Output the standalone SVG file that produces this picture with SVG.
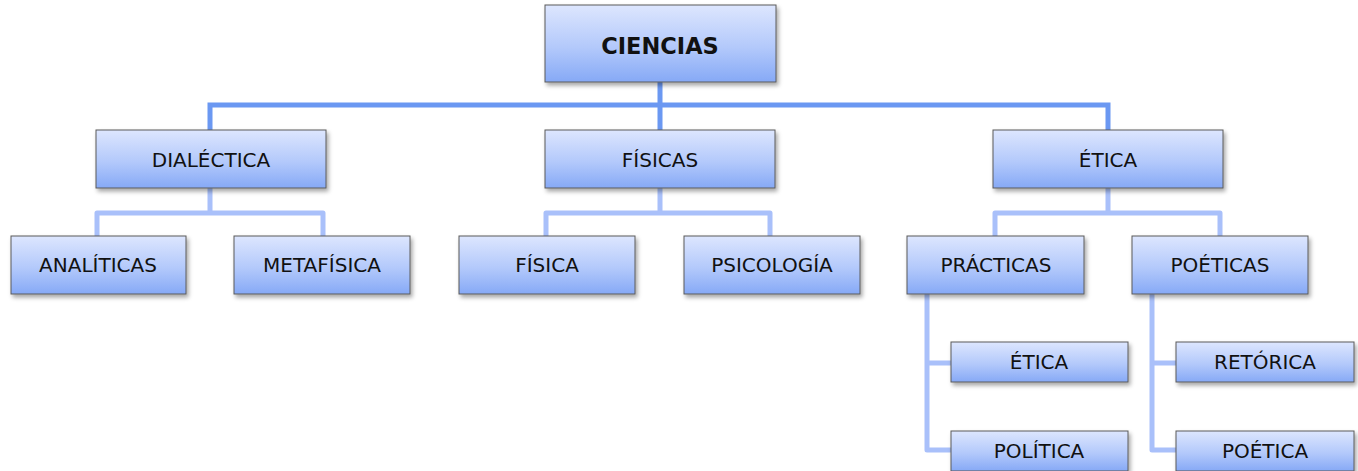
<svg xmlns="http://www.w3.org/2000/svg" width="1358" height="471" viewBox="0 0 1358 471">
<defs>
<linearGradient id="g" x1="0" y1="0" x2="0" y2="1">
<stop offset="0" stop-color="#dde6fe"/>
<stop offset="0.55" stop-color="#b3c9fb"/>
<stop offset="1" stop-color="#86a9f6"/>
</linearGradient>
<filter id="sh" x="-10%" y="-20%" width="125%" height="150%">
<feDropShadow dx="2" dy="3" stdDeviation="2" flood-color="#000" flood-opacity="0.35"/>
</filter>
</defs>
<style>
.box{fill:url(#g);stroke:#5a5a5a;stroke-width:1;filter:url(#sh)}
text{font-family:"DejaVu Sans","Verdana",sans-serif;font-size:20px;fill:#111;text-anchor:middle}
.b{font-weight:bold;font-size:22.5px}
.c1{fill:none;stroke:#6b98f2;stroke-width:5}
.c2{fill:none;stroke:#a9c0fa;stroke-width:5;stroke-linejoin:round}
</style>
<rect width="1358" height="471" fill="#fff"/>
<g id="connectors">
<path class="c1" d="M660 82 V130 M210 130 V105 H1108 V130"/>
<path class="c2" d="M210 188 V213 M97 236 V213 H323 V236"/>
<path class="c2" d="M660 188 V213 M546 236 V213 H770 V236"/>
<path class="c2" d="M1108 188 V213 M995 236 V213 H1220 V236"/>
<path class="c2" d="M927 294 V450 H951 M927 363 H951"/>
<path class="c2" d="M1152 294 V450 H1176 M1152 363 H1176"/>
</g>
<g id="ciencias"><rect class="box" x="545" y="5" width="231" height="77"/><text class="b" x="660" y="54">CIENCIAS</text></g>
<g id="dialectica"><rect class="box" x="96" y="130" width="230" height="58"/><text x="211" y="167">DIALÉCTICA</text></g>
<g id="fisicas"><rect class="box" x="545" y="130" width="230" height="58"/><text x="660" y="167">FÍSICAS</text></g>
<g id="etica1"><rect class="box" x="993" y="130" width="230" height="58"/><text x="1108" y="167">ÉTICA</text></g>
<g id="analiticas"><rect class="box" x="11" y="236" width="175" height="58"/><text x="98" y="272">ANALÍTICAS</text></g>
<g id="metafisica"><rect class="box" x="234" y="236" width="176" height="58"/><text x="322" y="272">METAFÍSICA</text></g>
<g id="fisica"><rect class="box" x="459" y="236" width="176" height="58"/><text x="547" y="272">FÍSICA</text></g>
<g id="psicologia"><rect class="box" x="684" y="236" width="176" height="58"/><text x="772" y="272">PSICOLOGÍA</text></g>
<g id="practicas"><rect class="box" x="907" y="236" width="177" height="58"/><text x="996" y="272">PRÁCTICAS</text></g>
<g id="poeticas"><rect class="box" x="1132" y="236" width="176" height="58"/><text x="1220" y="272">POÉTICAS</text></g>
<g id="etica2"><rect class="box" x="951" y="342" width="177" height="40"/><text x="1039" y="369">ÉTICA</text></g>
<g id="politica"><rect class="box" x="951" y="431" width="177" height="40"/><text x="1039" y="458">POLÍTICA</text></g>
<g id="retorica"><rect class="box" x="1176" y="342" width="178" height="40"/><text x="1265" y="369">RETÓRICA</text></g>
<g id="poetica"><rect class="box" x="1176" y="431" width="178" height="40"/><text x="1265" y="458">POÉTICA</text></g>
</svg>
